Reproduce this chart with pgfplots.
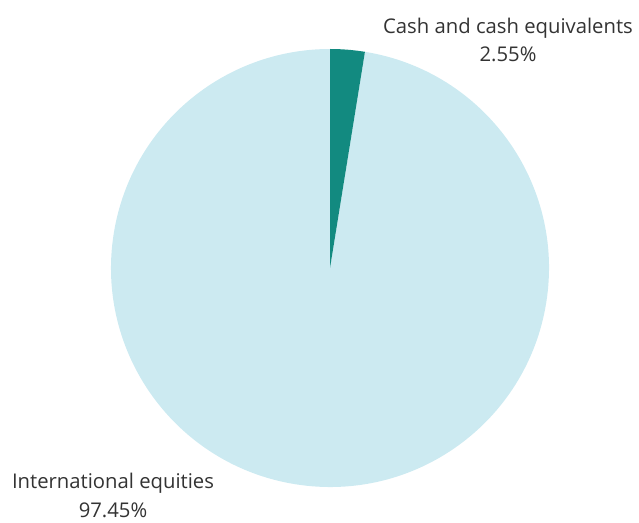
\documentclass[border=0pt]{standalone}
\usepackage{pgfplots}
\usepackage{pgfplotstable}
\pgfplotsset{compat=1.18}
\usepackage{fontspec}
\setmainfont{Open Sans}
\definecolor{teal1}{RGB}{18,138,128}
\definecolor{light1}{RGB}{204,234,241}
\definecolor{txt}{RGB}{51,51,51}
\pgfplotstableread{
label value
Cash 2.55
International 97.45
}\piedata
\begin{document}
\begin{tikzpicture}
\pgfplotstablegetelem{0}{value}\of\piedata \let\va\pgfplotsretval
\pgfplotstablegetelem{1}{value}\of\piedata \let\vb\pgfplotsretval
\pgfmathsetmacro{\angA}{90-3.6*\va}
\pgfmathsetmacro{\angB}{\angA-3.6*\vb}
\begin{axis}[
  at={(0,0)}, anchor=south west,
  scale only axis, width=479.25pt, height=391.5pt,
  xmin=0, xmax=639, ymin=0, ymax=522,
  hide axis, clip=false,
]
\fill[light1] (axis cs:330,254) -- ++(\angA:164.25pt) arc[start angle=\angA, end angle=\angB, radius=164.25pt] -- cycle;
\fill[teal1] (axis cs:330,254) -- ++(90:164.25pt) arc[start angle=90, end angle=\angA, radius=164.25pt] -- cycle;
\node[txt, font=\fontsize{15.2}{20}\selectfont, align=center, anchor=base, inner sep=0pt] at (axis cs:508,460) {Cash and cash equivalents\\[1.5pt]\va\%};
\node[txt, font=\fontsize{15.2}{20}\selectfont, align=center, anchor=base, inner sep=0pt] at (axis cs:113,5) {International equities\\[1.5pt]\vb\%};
\end{axis}
\pgfresetboundingbox
\path (0,0) rectangle (479.25pt,391.5pt);
\end{tikzpicture}
\end{document}
